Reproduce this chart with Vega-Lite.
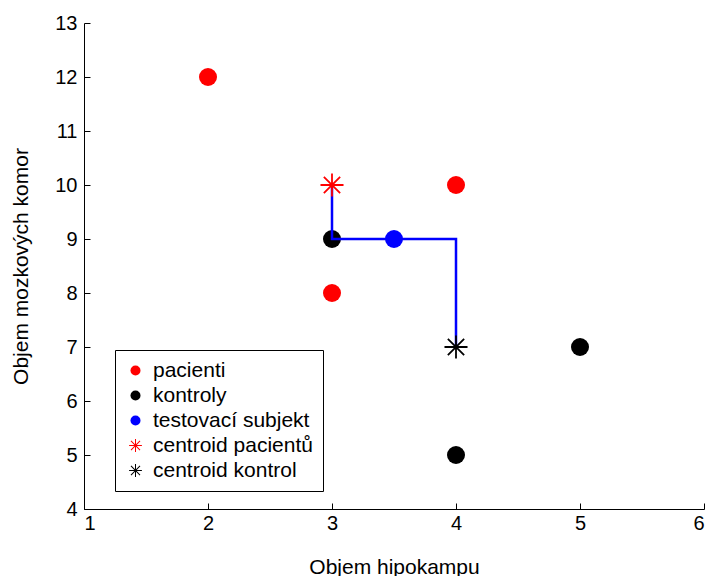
{
  "$schema": "https://vega.github.io/schema/vega-lite/v6.json",
  "width": 620,
  "height": 486,
  "autosize": {"type": "none"},
  "padding": {"left": 84, "top": 23, "right": 10, "bottom": 67},
  "background": "white",
  "config": {
    "view": {"stroke": null},
    "font": "Liberation Sans",
    "axis": {
      "domainColor": "black",
      "domainWidth": 1,
      "tickColor": "black",
      "tickSize": -6,
      "tickWidth": 1,
      "labelFont": "Liberation Sans",
      "labelFontSize": 20,
      "labelColor": "black",
      "titleFont": "Liberation Sans",
      "titleFontSize": 21,
      "titleFontWeight": "normal",
      "titleColor": "black",
      "grid": false
    },
    "legend": {
      "labelFont": "Liberation Sans",
      "labelFontSize": 21,
      "labelColor": "black"
    }
  },
  "datasets": {
    "points": [
      {"x": 2, "y": 12, "group": "pacienti"},
      {"x": 3, "y": 8, "group": "pacienti"},
      {"x": 4, "y": 10, "group": "pacienti"},
      {"x": 3, "y": 9, "group": "kontroly"},
      {"x": 4, "y": 5, "group": "kontroly"},
      {"x": 5, "y": 7, "group": "kontroly"},
      {"x": 3.5, "y": 9, "group": "testovací subjekt"},
      {"x": 3, "y": 10, "group": "centroid pacientů"},
      {"x": 4, "y": 7, "group": "centroid kontrol"}
    ],
    "path": [
      {"x": 3, "y": 10, "order": 1},
      {"x": 3, "y": 9, "order": 2},
      {"x": 4, "y": 9, "order": 3},
      {"x": 4, "y": 7, "order": 4}
    ]
  },
  "encoding": {
    "x": {
      "field": "x",
      "type": "quantitative",
      "scale": {"domain": [1, 6], "nice": false, "zero": false},
      "axis": {"values": [1, 2, 3, 4, 5, 6], "labelPadding": 10, "titlePadding": 23},
      "title": "Objem hipokampu"
    },
    "y": {
      "field": "y",
      "type": "quantitative",
      "scale": {"domain": [4, 13], "nice": false, "zero": false},
      "axis": {"values": [4, 5, 6, 7, 8, 9, 10, 11, 12, 13], "labelPadding": 13, "titlePadding": 23},
      "title": "Objem mozkových komor"
    }
  },
  "layer": [
    {
      "data": {"name": "points"},
      "transform": [{"filter": "datum.group === 'pacienti' || datum.group === 'kontroly' || datum.group === 'testovací subjekt'"}],
      "mark": {"type": "point", "filled": true, "size": 324, "opacity": 1, "strokeWidth": 0},
      "encoding": {
        "color": {
          "field": "group",
          "type": "nominal",
          "scale": {
            "domain": ["pacienti", "kontroly", "testovací subjekt", "centroid pacientů", "centroid kontrol"],
            "range": ["#ff0000", "#000000", "#0000ff", "#ff0000", "#000000"]
          },
          "legend": {
            "title": null,
            "orient": "none",
            "legendX": 31,
            "legendY": 327,
            "strokeColor": "black",
            "fillColor": "white",
            "padding": 10,
            "symbolSize": 100,
            "rowPadding": 3,
            "labelOffset": 7,
            "symbolStrokeWidth": 0,
            "symbolOpacity": 1
          }
        },
        "shape": {
          "field": "group",
          "type": "nominal",
          "scale": {
            "domain": ["pacienti", "kontroly", "testovací subjekt", "centroid pacientů", "centroid kontrol"],
            "range": ["circle", "circle", "circle",
              "M-1.28,-0.1L1.28,-0.1L1.28,0.1L-1.28,0.1ZM-0.1,-1.28L0.1,-1.28L0.1,1.28L-0.1,1.28ZM-0.976,-0.834L-0.834,-0.976L0.976,0.834L0.834,0.976ZM-0.834,0.976L-0.976,0.834L0.834,-0.976L0.976,-0.834Z",
              "M-1.28,-0.1L1.28,-0.1L1.28,0.1L-1.28,0.1ZM-0.1,-1.28L0.1,-1.28L0.1,1.28L-0.1,1.28ZM-0.976,-0.834L-0.834,-0.976L0.976,0.834L0.834,0.976ZM-0.834,0.976L-0.976,0.834L0.834,-0.976L0.976,-0.834Z"]
          }
        }
      }
    },
    {
      "data": {"name": "path"},
      "mark": {"type": "line", "color": "#0000ff", "strokeWidth": 2.5},
      "encoding": {
        "order": {"field": "order", "type": "quantitative"}
      }
    },
    {
      "data": {"name": "points"},
      "transform": [{"filter": "datum.group === 'centroid pacientů' || datum.group === 'centroid kontrol'"}],
      "mark": {"type": "point", "filled": true, "size": 324, "opacity": 1, "strokeWidth": 0},
      "encoding": {
        "color": {"field": "group", "type": "nominal"},
        "shape": {"field": "group", "type": "nominal"}
      }
    }
  ]
}
